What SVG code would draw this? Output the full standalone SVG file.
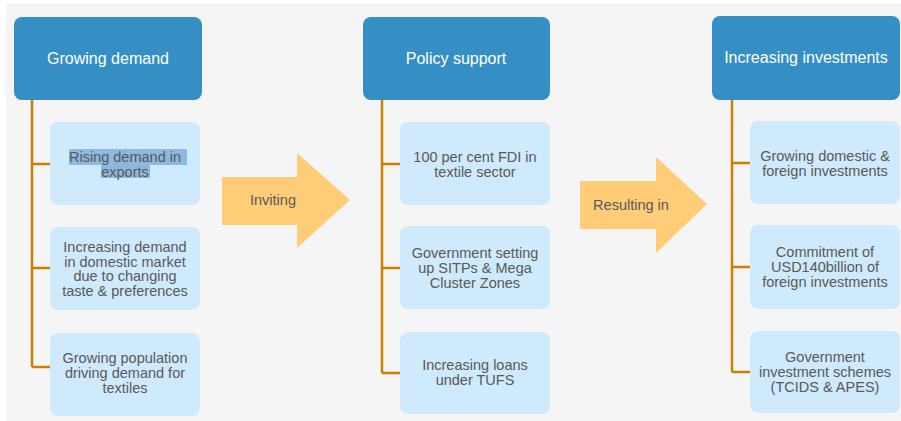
<svg xmlns="http://www.w3.org/2000/svg" width="901" height="421" viewBox="0 0 901 421">
<style>
.hdr{fill:#358fc4}
.chd{fill:#cfeafc}
.ln{stroke:#cc8000;stroke-width:2.5;fill:none}
.arr{fill:#ffcc77}
.ht{font-family:"Liberation Sans",Arial,sans-serif;font-size:16px;fill:#ffffff;text-anchor:middle}
.ct{font-family:"Liberation Sans",Arial,sans-serif;font-size:14.5px;fill:#595959;text-anchor:middle}
.at{font-family:"Liberation Sans",Arial,sans-serif;font-size:14.5px;fill:#595959;text-anchor:middle}
</style>
<rect x="0" y="0" width="901" height="421" fill="#ffffff"/>
<rect x="6" y="3" width="895" height="418" fill="#f5f5f5"/>
<g id="connectors">
<path class="ln" d="M32 100 V367 M32 164 H50 M32 268 H50 M32 367 H50"/>
<path class="ln" d="M382 100 V373 M382 164 H400 M382 268 H400 M382 373 H400"/>
<path class="ln" d="M732 100 V372 M732 163 H750 M732 267 H750 M732 372 H750"/>
</g>
<g id="arrow-inviting">
<polygon class="arr" points="222,177 297,177 297,153 350,200 297,248 297,225 222,225"/>
<text class="at" x="273" y="205">Inviting</text>
</g>
<g id="arrow-resulting">
<polygon class="arr" points="580,181 656,181 656,157 707,204 656,253 656,229 580,229"/>
<text class="at" x="631" y="210">Resulting in</text>
</g>
<g id="growing-demand">
<rect class="hdr" x="14" y="17" width="188" height="83" rx="8"/>
<text class="ht" x="108" y="64">Growing demand</text>
</g>
<g id="rising-demand">
<rect class="chd" x="50" y="122" width="150" height="83" rx="8"/>
<rect x="69" y="149" width="118" height="16" fill="#8db8e0"/>
<rect x="101" y="165" width="49" height="13" fill="#8db8e0"/>
<text class="ct" x="125" y="162" fill="#4a4a4a">Rising demand in</text>
<text class="ct" x="125" y="177">exports</text>
</g>
<g id="domestic-demand">
<rect class="chd" x="50" y="227" width="150" height="83" rx="8"/>
<text class="ct" x="125" y="252">Increasing demand</text>
<text class="ct" x="125" y="266.5">in domestic market</text>
<text class="ct" x="125" y="281">due to changing</text>
<text class="ct" x="125" y="295.5">taste &amp; preferences</text>
</g>
<g id="population">
<rect class="chd" x="50" y="333" width="150" height="83" rx="8"/>
<text class="ct" x="125" y="363">Growing population</text>
<text class="ct" x="125" y="378">driving demand for</text>
<text class="ct" x="125" y="393">textiles</text>
</g>
<g id="policy-support">
<rect class="hdr" x="363" y="17" width="187" height="83" rx="8"/>
<text class="ht" x="456" y="64">Policy support</text>
</g>
<g id="fdi">
<rect class="chd" x="400" y="122" width="150" height="83" rx="8"/>
<text class="ct" x="475" y="161.5">100 per cent FDI in</text>
<text class="ct" x="475" y="176.5">textile sector</text>
</g>
<g id="sitps">
<rect class="chd" x="400" y="226" width="150" height="83" rx="8"/>
<text class="ct" x="475" y="257.5">Government setting</text>
<text class="ct" x="475" y="272.5">up SITPs &amp; Mega</text>
<text class="ct" x="475" y="287.5">Cluster Zones</text>
</g>
<g id="tufs">
<rect class="chd" x="400" y="332" width="150" height="82" rx="8"/>
<text class="ct" x="475" y="370">Increasing loans</text>
<text class="ct" x="475" y="385">under TUFS</text>
</g>
<g id="increasing-investments">
<rect class="hdr" x="712" y="16" width="188" height="84" rx="8"/>
<text class="ht" x="806" y="63">Increasing investments</text>
</g>
<g id="domestic-foreign">
<rect class="chd" x="750" y="121" width="150" height="83" rx="8"/>
<text class="ct" x="825" y="161">Growing domestic &amp;</text>
<text class="ct" x="825" y="176">foreign investments</text>
</g>
<g id="commitment">
<rect class="chd" x="750" y="225" width="150" height="84" rx="8"/>
<text class="ct" x="825" y="256.5">Commitment of</text>
<text class="ct" x="825" y="271.5">USD140billion of</text>
<text class="ct" x="825" y="286.5">foreign investments</text>
</g>
<g id="schemes">
<rect class="chd" x="750" y="331" width="150" height="82" rx="8"/>
<text class="ct" x="825" y="362">Government</text>
<text class="ct" x="825" y="377">investment schemes</text>
<text class="ct" x="825" y="392">(TCIDS &amp; APES)</text>
</g>
</svg>
